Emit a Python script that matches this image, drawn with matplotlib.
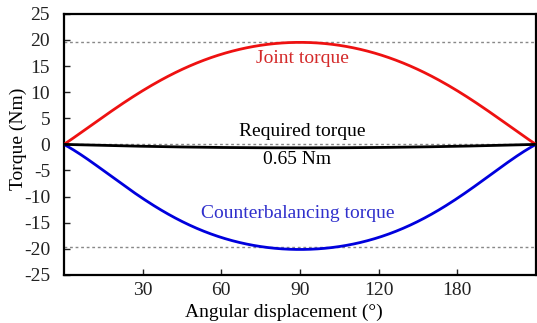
import matplotlib.pyplot as plt
import numpy as np

plt.rcParams['font.family'] = ['Liberation Serif', 'DejaVu Serif']
plt.rcParams['axes.unicode_minus'] = False

# values (every 15 degrees)
angle = [0, 15, 30, 45, 60, 75, 90, 105, 120, 135, 150, 165, 180]
joint = [0, 5.2, 10.4, 14.3, 17.2, 19.0, 19.6, 19.0, 17.2, 14.3, 10.4, 5.2, 0]
counter = [0, -5.0, -10.3, -14.8, -17.8, -19.6, -20.1, -19.6, -17.8, -14.8, -10.3, -5.0, 0]
required = [0, -0.2, -0.35, -0.5, -0.6, -0.65, -0.65, -0.65, -0.6, -0.5, -0.35, -0.2, 0]

xtick_pos = [30, 60, 90, 120, 150]
xtick_lab = ['30', '60', '90', '120', '180']
ytick_pos = [-25, -20, -15, -10, -5, 0, 5, 10, 15, 20, 25]
ref_lines = [19.6, 0, -19.6]


def smooth(x, y, n=200):
    # polynomial through the read points, just for a smooth stroke
    xs = np.linspace(x[0], x[-1], n)
    c = np.polyfit(x, y, 6)
    return xs, np.polyval(c, xs)


fig = plt.figure(figsize=(5.37, 3.23), dpi=100)
ax = fig.add_axes([0.119, 0.149, 0.879, 0.808])

for v in ref_lines:
    ax.axhline(v, color='#888888', lw=1, ls=(0, (2, 2)), zorder=1)

xs, ys = smooth(angle, joint)
ax.plot(xs, ys, color='#ee1111', lw=2, zorder=3)
xs, ys = smooth(angle, counter)
ax.plot(xs, ys, color='#0000dd', lw=2, zorder=3)
xs, ys = smooth(angle, required)
ax.plot(xs, ys, color='black', lw=2, zorder=4)

fs = 14
ax.text(91, 16.4, 'Joint torque', color='#d42a2a', fontsize=fs, ha='center', va='center')
ax.text(91, 2.4, 'Required torque', color='black', fontsize=fs, ha='center', va='center')
ax.text(89, -2.9, '0.65 Nm', color='black', fontsize=fs, ha='center', va='center')
ax.text(89, -13.3, 'Counterbalancing torque', color='#3030cc', fontsize=fs, ha='center', va='center')

ax.set_xlim(0, 180)
ax.set_ylim(-25, 25)
ax.set_xticks(xtick_pos)
ax.set_xticklabels(xtick_lab)
ax.set_yticks(ytick_pos)
ax.tick_params(direction='in', length=4, width=1, labelsize=fs, colors='#222222')
ax.tick_params(axis='y', pad=10)
ax.tick_params(axis='x', pad=5)
for s in ax.spines.values():
    s.set_linewidth(1.6)

ax.set_xlabel('Angular displacement (°)', fontsize=fs)
ax.set_ylabel('Torque (Nm)', fontsize=fs, labelpad=-2)
ax.xaxis.set_label_coords(0.466, -0.112)
ax.yaxis.label.set_y(0.523)

fig.savefig('out.png', dpi=100)
